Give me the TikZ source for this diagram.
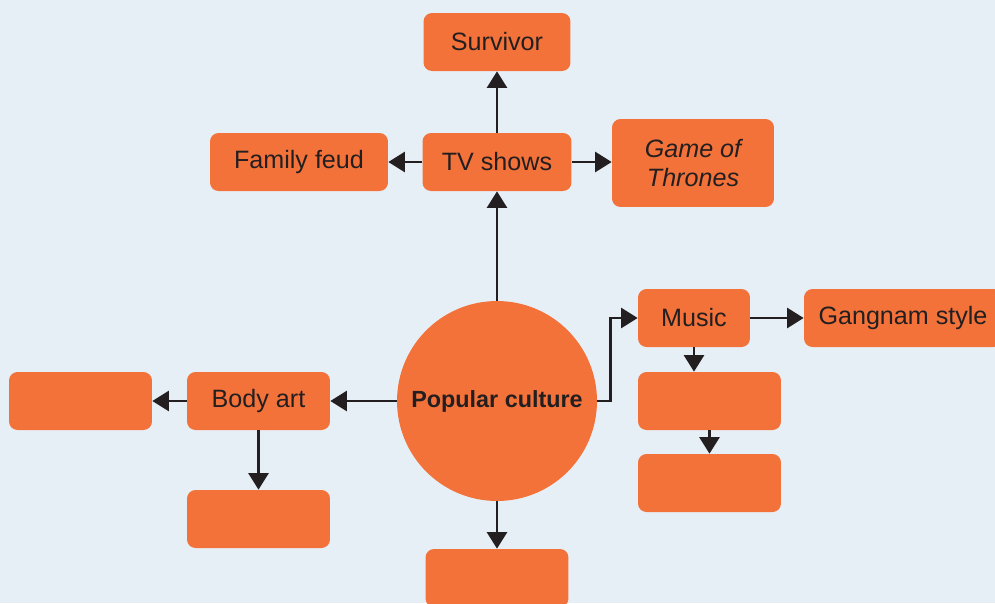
\documentclass[tikz,border=0pt]{standalone}
\usepackage{fontspec}
\setmainfont{Liberation Sans}
\usepackage{tikz}
\usetikzlibrary{arrows.meta}
\definecolor{PopOrange}{HTML}{F3723A}
\definecolor{PopBack}{HTML}{E7EFF6}
\definecolor{PopInk}{HTML}{231F20}

\tikzset{
  topic/.style = {fill = PopOrange, draw = none, rounded corners = .17cm,
    minimum width = 2.86cm, minimum height = 1.16cm, inner sep = 0pt,
    text = PopInk, font = \fontsize{14.3}{16.5}\selectfont, align = center},
  link/.style = {draw = PopInk, line width = 1.4pt,
    -{Triangle[width = .4cm, length = .33cm]}}
}

\begin{document}
\begin{tikzpicture}[x = .02cm, y = -.02cm]
  % backdrop
  \fill[PopBack] (0,0) rectangle (995,603);
  \useasboundingbox (0,0) rectangle (995,603);

  % centre
  \node[circle, fill = PopOrange, minimum size = 4cm, inner sep = 0pt, text = PopInk,
    font = \fontsize{13.3}{16}\selectfont\bfseries] (pop) at (497,401) {Popular culture};

  % TV branch
  \node[topic, minimum width = 2.98cm] (tv) at (497,162) {TV shows};
  \node[topic, minimum width = 2.94cm] (survivor) at (497,42) {Survivor};
  \node[topic, minimum width = 3.56cm] (feud) at (299,162) {Family feud};
  \node[topic, minimum width = 3.24cm, minimum height = 1.76cm, font = \fontsize{14.3}{16.5}\selectfont\itshape]
    (thrones) at (693,163) {Game of\\Thrones};

  % music branch
  \node[topic, minimum width = 2.24cm] (music) at (694,318) {Music};
  \node[topic, minimum width = 3.96cm] (gangnam) at (903,318) {Gangnam style};
  \node[topic] (music1) at (709.5,401) {};
  \node[topic] (music2) at (709.5,483) {};

  % body art branch
  \node[topic] (body) at (258.5,401) {Body art};
  \node[topic] (bodyleft) at (80.5,401) {};
  \node[topic] (bodydown) at (258.5,519) {};

  % below the centre
  \node[topic] (popdown) at (497,578) {};

  % arrows
  \draw[link] (pop.north) -- (tv.south);
  \draw[link] (tv.north) -- (survivor.south);
  \draw[link] (tv.west) -- (feud.east);
  \draw[link] (tv.east) -- (tv.east -| thrones.west);
  \draw[link] (pop.east) -- ++(13,0) |- (music.west);
  \draw[link] (music.east) -- (gangnam.west);
  \draw[link] (music.south) -- (music.south |- music1.north);
  \draw[link] (music1.south) -- (music2.north);
  \draw[link] (pop.west) -- (body.east);
  \draw[link] (body.west) -- (bodyleft.east);
  \draw[link] (body.south) -- (bodydown.north);
  \draw[link] (pop.south) -- (popdown.north);

\end{tikzpicture}
\end{document}
